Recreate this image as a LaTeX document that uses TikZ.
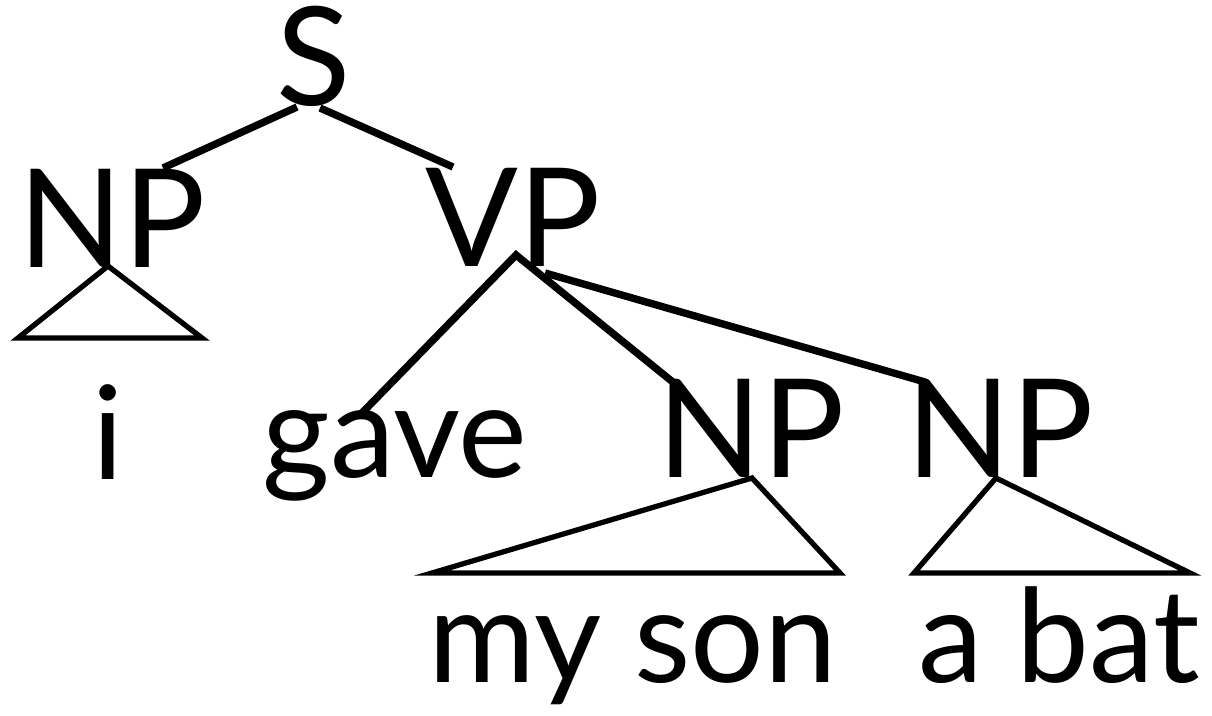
\documentclass[tikz,border=0pt]{standalone}
\usepackage{fontspec}
\setmainfont{Lato}
\begin{document}
\begin{tikzpicture}[x=0.01cm,y=-0.01cm,
  lbl/.style={inner sep=0pt,anchor=base,font=\fontsize{39}{39}\selectfont},
  word/.style={inner sep=0pt,anchor=base,font=\fontsize{37}{37}\selectfont},
  edge/.style={line width=2.1pt},
  tri/.style={line width=1.5pt,line join=miter}]
\useasboundingbox (0,0) rectangle (1212,716);
\node[lbl] (S) at (314,106) {S};
\node[lbl] (NP1) at (112,268) {NP};
\node[lbl] (VP) at (513,267) {VP};
\node[word] (i) at (108,480) {i};
\node[word] (gave) at (395,478) {gave};
\node[lbl] (NP2) at (751,478) {NP};
\node[lbl] (NP3) at (1000,478) {NP};
\node[word] (myson) at (633,683) {my son};
\node[word] (abat) at (1059,683) {a bat};
% endpoints
\coordinate (sL) at (297,107);
\coordinate (sR) at (320,108);
\coordinate (np1t) at (163,168);
\coordinate (vpt) at (453,167);
\coordinate (vpA) at (516,255);
\coordinate (vpB) at (545,273);
\coordinate (gavet) at (360,415);
\coordinate (np2t) at (674,383);
\coordinate (np3t) at (925,382);
\draw[edge] (sL) -- (np1t);
\draw[edge] (sR) -- (vpt);
\draw[edge] (gavet) -- (vpA) -- (np2t);
\draw[edge] (vpB) -- (np3t);
\draw[tri] (108,266) -- (18,338) -- (202,338) -- cycle;
\draw[tri] (752,478) -- (432,573) -- (840,573) -- cycle;
\draw[tri] (996,478) -- (914,573) -- (1190,573) -- cycle;
\end{tikzpicture}
\end{document}
